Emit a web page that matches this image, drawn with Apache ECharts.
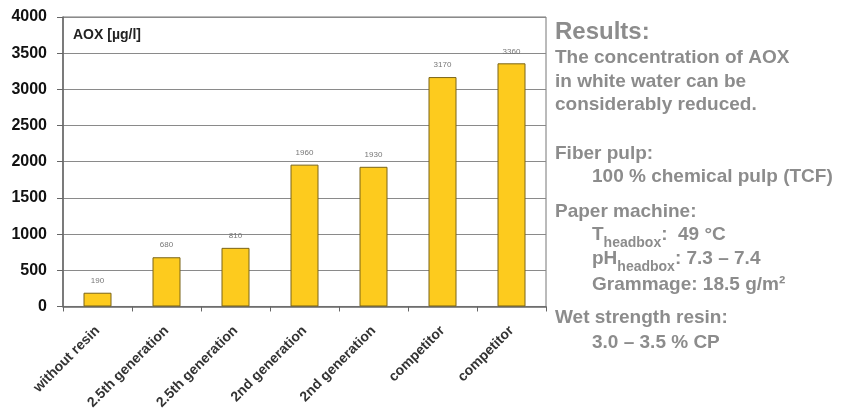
<!DOCTYPE html>
<html><head><meta charset="utf-8">
<script src="https://cdn.jsdelivr.net/npm/echarts@6/dist/echarts.min.js"></script>
<style>html,body{margin:0;padding:0;background:#fff}#c{width:843px;height:412px}</style>
</head><body><div id="c"></div>
<script>
const categories = ["without resin","2.5th generation","2.5th generation","2nd generation","2nd generation","competitor","competitor"];
const aoxValues = [190, 680, 810, 1960, 1930, 3170, 3360];
const yTicks = [0, 500, 1000, 1500, 2000, 2500, 3000, 3500, 4000];

const chart = echarts.init(document.getElementById('c'), null, {renderer:'canvas'});
const grey = '#8c8c8c';
const font = '"Liberation Sans", Arial, sans-serif';
const cv = document.createElement('canvas').getContext('2d');
function tw(t, s){ cv.font = 'bold '+s+'px '+font; return cv.measureText(t).width; }

const BODY = 19;
const lines = [
  {x:555, y:32, t:'Results:', s:24},
  {x:555, y:58, t:'The concentration of AOX', s:BODY},
  {x:555, y:82, t:'in white water can be', s:BODY},
  {x:555, y:105, t:'considerably reduced.', s:BODY},
  {x:555, y:154, t:'Fiber pulp:', s:BODY},
  {x:592, y:177, t:'100 % chemical pulp (TCF)', s:BODY},
  {x:555, y:212, t:'Paper machine:', s:BODY},
  {x:592, y:285, t:'Grammage: 18.5 g/m²', s:BODY},
  {x:555, y:318, t:'Wet strength resin:', s:BODY},
  {x:592, y:343, t:'3.0 – 3.5 % CP', s:BODY}
];
const graphics = lines.map(l => ({
  type:'text', x:l.x, y:l.y,
  style:{text:l.t, fill:grey, font:'bold '+l.s+'px '+font, verticalAlign:'middle', align:'left'}
}));
function subLine(main, sub, rest, x, y){
  const out = [];
  const w1 = tw(main, BODY), w2 = tw(sub, 14);
  out.push({type:'text', x:x, y:y, style:{text:main, fill:grey, font:'bold '+BODY+'px '+font, verticalAlign:'middle'}});
  out.push({type:'text', x:x+w1, y:y+8, style:{text:sub, fill:grey, font:'bold 14px '+font, verticalAlign:'middle'}});
  out.push({type:'text', x:x+w1+w2, y:y, style:{text:rest, fill:grey, font:'bold '+BODY+'px '+font, verticalAlign:'middle'}});
  return out;
}
graphics.push(...subLine('T','headbox',':  49 °C',592,235));
graphics.push(...subLine('pH','headbox',': 7.3 – 7.4',592,259));
graphics.push({type:'text', x:73, y:35, style:{text:'AOX [µg/l]', fill:'#222', font:'bold 14px '+font, verticalAlign:'middle'}});

chart.setOption({
  animation:false,
  backgroundColor:'#fff',
  grid:{left:63, top:17, width:483, height:290, show:true, borderColor:'#777', borderWidth:1, backgroundColor:'#fff'},
  xAxis:{
    type:'category', data:categories,
    axisLine:{lineStyle:{color:'#666', width:1.5}},
    axisTick:{show:true, length:5, lineStyle:{color:'#666'}},
    axisLabel:{rotate:45, interval:0, color:'#333', fontWeight:'bold', fontSize:14, fontFamily:font, margin:22}
  },
  yAxis:{
    type:'value', min:yTicks[0], max:yTicks[yTicks.length-1], interval:500,
    axisLine:{show:true, lineStyle:{color:'#666', width:1.5}},
    axisTick:{show:true, length:6, lineStyle:{color:'#666'}},
    axisLabel:{color:'#111', fontWeight:'bold', fontSize:16, fontFamily:font, margin:16, formatter:v => String(v)},
    splitLine:{lineStyle:{color:'#8a8a8a', width:1}}
  },
  series:[{
    type:'bar', data:aoxValues, barWidth:28,
    itemStyle:{color:'#FDCB1E', borderColor:'#7a6418', borderWidth:1},
    label:{show:true, position:'top', color:'#777', fontSize:8, fontFamily:font, distance:8}
  }],
  graphic:graphics
});
</script></body></html>
